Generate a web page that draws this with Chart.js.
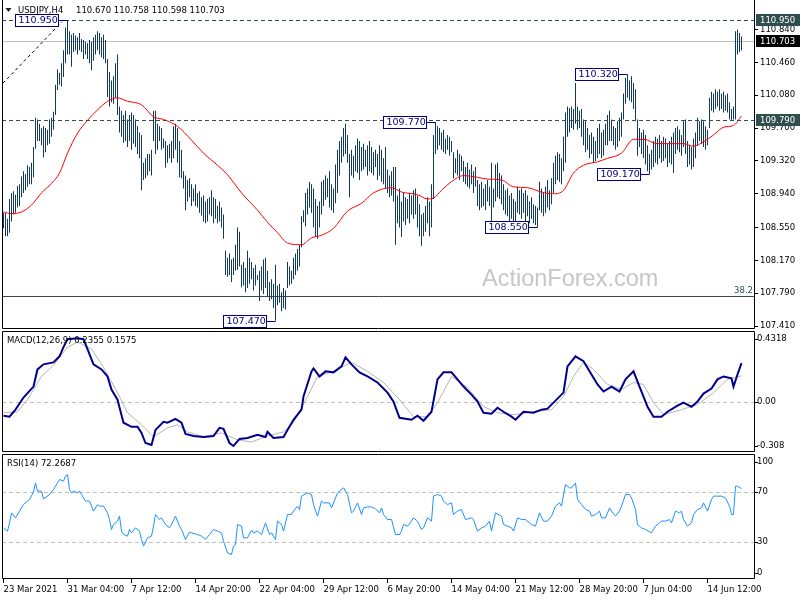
<!DOCTYPE html>
<html>
<head>
<meta charset="utf-8">
<title>USDJPY H4</title>
<script src="https://cdn.jsdelivr.net/npm/chart.js@4.4.1/dist/chart.umd.min.js"></script>
<style>
  body { margin: 0; background: #fff; }
  .panel { position: absolute; left: 0; }
</style>
</head>
<body>
<canvas id="priceChart" class="panel" style="top:0px" width="800" height="330"></canvas>
<canvas id="macdChart" class="panel" style="top:330px" width="800" height="123"></canvas>
<canvas id="rsiChart" class="panel" style="top:453px" width="800" height="147"></canvas>
<script>
// ---- data (one bar per index) ----
const xTickBars = [0, 32, 64, 96, 128, 160, 192, 224, 256, 288, 320, 352];
const xTickLabels = ["23 Mar 2021", "31 Mar 04:00", "7 Apr 12:00", "14 Apr 20:00", "22 Apr 04:00", "29 Apr 12:00",
  "6 May 20:00", "14 May 04:00", "21 May 12:00", "28 May 20:00", "7 Jun 04:00", "14 Jun 12:00"];
const priceTicks = [107.41, 107.79, 108.17, 108.55, 108.94, 109.32, 109.70, 110.08, 110.46, 110.84];

const highs = [
  108.72,108.72,108.65,108.88,108.95,108.97,108.93,109.03,109.05,109.14,
  109.20,109.17,109.27,109.25,109.30,109.48,109.82,109.80,109.75,109.70,
  109.72,109.70,109.68,109.80,109.82,109.89,110.20,110.38,110.34,110.45,
  110.60,110.86,110.95,110.82,110.78,110.80,110.77,110.75,110.80,110.73,
  110.72,110.70,110.68,110.72,110.70,110.75,110.78,110.82,110.80,110.75,
  110.78,110.72,110.50,110.35,110.25,110.30,110.45,110.55,109.95,109.90,
  109.85,109.90,109.80,109.85,109.88,109.85,109.80,109.72,109.65,109.62,
  109.30,109.35,109.40,109.40,109.45,109.90,109.90,109.75,109.72,109.70,
  109.58,109.55,109.50,109.52,109.55,109.72,109.75,109.70,109.55,109.45,
  109.20,109.15,109.10,109.12,109.05,109.00,109.05,108.95,108.97,108.90,
  108.92,108.85,108.88,108.90,108.98,108.90,108.88,108.80,108.85,108.78,
  108.70,108.28,108.20,108.25,108.18,108.20,108.35,108.55,108.50,108.12,
  108.15,108.08,108.28,108.20,108.15,108.08,108.12,108.00,108.05,108.10,
  108.18,108.20,108.05,107.92,107.95,107.90,108.12,107.88,107.90,107.80,
  107.85,107.82,108.15,108.10,108.05,108.20,108.25,108.30,108.35,108.68,
  108.75,108.95,109.00,109.08,109.05,109.00,108.88,108.80,108.85,109.08,
  109.10,109.15,109.12,109.20,109.05,109.00,109.28,109.45,109.55,109.60,
  109.70,109.75,109.62,109.40,109.45,109.38,109.50,109.58,109.55,109.48,
  109.52,109.45,109.50,109.55,109.48,109.42,109.45,109.40,109.50,109.45,
  109.35,109.48,109.22,109.15,109.20,109.25,109.25,108.92,109.00,108.85,
  108.95,108.90,108.88,108.95,108.92,108.98,109.00,108.92,108.82,108.70,
  108.72,108.80,108.90,108.85,109.05,109.62,109.77,109.72,109.70,109.65,
  109.68,109.58,109.62,109.60,109.55,109.42,109.35,109.45,109.40,109.38,
  109.32,109.25,109.30,109.22,109.28,109.20,109.25,109.10,109.05,109.08,
  109.00,109.05,109.10,109.02,109.30,109.00,109.28,109.30,109.18,109.15,
  109.05,108.98,109.00,108.92,108.95,108.88,108.85,109.02,108.98,109.00,
  108.95,108.98,108.92,108.85,108.90,108.82,108.80,108.78,109.08,109.00,
  108.95,109.02,109.10,108.98,109.12,109.30,109.38,109.42,109.40,109.35,
  109.60,109.88,109.95,109.93,109.95,109.92,110.22,109.95,109.90,109.92,
  109.80,109.78,109.70,109.62,109.65,109.60,109.55,109.70,109.75,109.65,
  109.68,109.75,109.85,109.90,109.80,109.72,109.70,109.78,109.82,109.88,
  110.10,110.28,110.32,110.25,110.30,110.22,110.15,109.80,109.70,109.65,
  109.68,109.62,109.50,109.40,109.45,109.55,109.60,109.58,109.62,109.55,
  109.60,109.58,109.52,109.55,109.60,109.65,109.70,109.72,109.68,109.62,
  109.78,109.80,109.55,109.50,109.48,109.58,109.65,109.82,109.78,109.80,
  109.78,109.72,109.68,110.05,110.12,110.10,110.15,110.12,110.15,110.10,
  110.12,110.08,110.10,110.00,109.92,109.95,110.82,110.84,110.80,110.758
];
const lows = [
  108.54,108.45,108.45,108.49,108.62,108.70,108.72,108.78,108.80,108.90,
  108.95,108.98,109.02,109.05,109.05,109.13,109.46,109.55,109.55,109.50,
  109.36,109.42,109.50,109.52,109.60,109.68,109.85,110.14,110.20,110.18,
  110.29,110.45,110.55,110.55,110.41,110.58,110.60,110.55,110.60,110.58,
  110.50,110.55,110.50,110.45,110.37,110.48,110.55,110.60,110.55,110.52,
  110.50,110.45,110.06,109.95,110.00,109.98,110.05,109.85,109.65,109.60,
  109.53,109.55,109.48,109.55,109.45,109.52,109.48,109.40,109.35,108.98,
  109.10,109.12,109.15,109.20,109.15,109.55,109.40,109.45,109.55,109.45,
  109.47,109.24,109.30,109.35,109.30,109.35,109.45,109.30,109.13,109.12,
  109.00,108.75,108.85,108.90,108.80,108.85,108.80,108.78,108.72,108.69,
  108.62,108.60,108.62,108.70,108.68,108.60,108.65,108.60,108.62,108.55,
  108.42,108.00,107.98,108.00,107.92,108.00,108.05,108.06,108.10,107.86,
  107.88,107.80,107.85,107.90,107.95,107.82,107.88,107.94,107.70,107.82,
  107.78,107.85,107.75,107.70,107.72,107.62,107.47,107.65,107.68,107.58,
  107.62,107.60,107.85,107.88,107.90,107.95,108.00,108.05,108.10,108.32,
  108.61,108.56,108.70,108.78,108.72,108.55,108.44,108.42,108.55,108.70,
  108.80,108.87,108.90,108.78,108.75,108.72,108.83,108.95,109.15,109.30,
  109.37,109.40,109.30,108.90,109.15,109.12,109.20,109.18,109.10,109.20,
  109.22,109.25,109.15,109.20,109.18,109.15,109.25,109.10,109.15,109.08,
  109.05,109.00,108.95,108.90,108.92,108.85,108.35,108.60,108.55,108.44,
  108.62,108.58,108.65,108.60,108.70,108.65,108.70,108.55,108.45,108.34,
  108.45,108.50,108.60,108.45,108.55,108.88,109.40,109.45,109.50,109.45,
  109.42,109.40,109.45,109.38,109.42,109.12,109.18,109.15,109.10,109.20,
  109.08,109.05,109.02,109.00,109.05,108.95,109.02,108.80,108.75,108.78,
  108.80,108.75,108.85,108.80,108.62,108.78,108.85,108.90,108.88,108.82,
  108.75,108.70,108.68,108.62,108.65,108.58,108.57,108.72,108.70,108.65,
  108.72,108.62,108.68,108.60,108.65,108.60,108.58,108.55,108.75,108.72,
  108.68,108.72,108.78,108.75,108.82,108.95,109.05,109.10,109.08,109.05,
  109.20,109.30,109.60,109.65,109.70,109.68,109.75,109.68,109.70,109.60,
  109.50,109.42,109.45,109.35,109.40,109.30,109.32,109.35,109.40,109.35,
  109.38,109.50,109.50,109.55,109.55,109.50,109.45,109.48,109.55,109.60,
  109.80,109.98,110.05,110.02,110.00,109.92,109.78,109.38,109.48,109.40,
  109.35,109.28,109.20,109.17,109.22,109.25,109.30,109.28,109.35,109.30,
  109.32,109.35,109.25,109.30,109.28,109.18,109.40,109.45,109.42,109.38,
  109.48,109.40,109.25,109.28,109.22,109.25,109.35,109.50,109.55,109.52,
  109.48,109.45,109.50,109.70,109.90,109.88,109.92,109.95,109.90,109.92,
  109.88,109.90,109.88,109.80,109.79,109.80,109.80,110.55,110.58,110.598
];

// red moving average
const maBars = [0,4,9,14,19,24,28,32,37,42,47,52,57,62,69,75,80,87,94,100,107,112,119,127,132,137,142,149,154,159,
  165,172,179,185,194,199,207,212,215,219,224,230,237,242,249,255,262,269,275,280,285,290,297,302,309,315,320,327,334,340,
  345,350,355,360,365,369];
const maValues = [108.73,108.71,108.73,108.81,108.95,109.06,109.18,109.41,109.64,109.79,109.91,110.01,110.05,110.01,109.97,
  109.83,109.80,109.72,109.56,109.41,109.27,109.16,108.95,108.75,108.61,108.49,108.37,108.35,108.43,108.46,108.54,108.74,
  108.83,108.95,109.01,108.96,108.93,108.88,108.89,108.98,109.08,109.15,109.13,109.11,109.10,109.02,109.01,108.96,108.94,
  108.98,109.18,109.27,109.31,109.35,109.41,109.57,109.57,109.52,109.52,109.52,109.49,109.54,109.62,109.71,109.73,109.84];

// dashed trend line, horizontal levels, marked swing points
const trendBars = [-0.25, 29.25];
const trendPrices = [110.22, 110.93];
const resistanceLevel = 110.95;
const supportLevel = 109.79;
const bidLevel = 110.703;
const fibLevel = 107.756;
const fibLabel = "38.2";
const markerBars = [32, 136, 216, 267, 312, 323];
const markerKinds = ["high", "low", "high", "low", "high", "low"];

// MACD(12,26,9)
const macdBars = [0,3,6,10,15,17,20,25,28,30,32,37,40,42,45,49,52,54,57,60,64,67,69,71,74,76,80,82,86,89,91,95,100,105,
  108,110,113,115,118,122,127,131,132,135,140,142,145,149,150,154,155,158,161,165,169,171,174,178,182,187,192,195,198,204,
  207,210,214,217,220,224,227,230,234,237,240,244,247,250,254,256,260,265,269,272,275,280,282,286,290,294,297,300,304,308,
  311,315,318,322,325,329,332,337,340,344,347,350,354,357,360,364,365,367,369];
const macdValues = [-0.086,-0.092,-0.049,0.025,0.092,0.197,0.228,0.240,0.277,0.333,0.382,0.388,0.382,0.321,0.228,0.197,
  0.154,0.074,0.012,-0.129,-0.154,-0.154,-0.191,-0.253,-0.265,-0.173,-0.123,-0.129,-0.105,-0.129,-0.197,-0.210,-0.216,
  -0.210,-0.160,-0.166,-0.253,-0.271,-0.228,-0.222,-0.203,-0.216,-0.185,-0.222,-0.216,-0.173,-0.111,-0.049,0.031,0.185,
  0.203,0.154,0.185,0.179,0.216,0.271,0.228,0.179,0.154,0.117,0.055,0,-0.099,-0.111,-0.086,-0.117,-0.062,0.136,0.179,
  0.179,0.136,0.092,0.043,0,-0.068,-0.074,-0.037,-0.062,-0.092,-0.111,-0.062,-0.068,-0.049,-0.043,-0.006,0.055,0.216,
  0.277,0.247,0.166,0.105,0.062,0.092,0.062,0.136,0.185,0.092,-0.031,-0.092,-0.092,-0.062,-0.025,-0.006,-0.031,0,0.049,
  0.080,0.136,0.154,0.142,0.092,0.166,0.2355];
const signalBars = [0,7,12,19,25,32,37,44,50,57,62,69,75,82,87,92,100,109,117,124,132,140,145,152,157,165,174,182,190,198,
  205,212,217,224,232,240,247,255,265,274,280,285,290,295,302,309,315,320,325,330,339,347,355,362,369];
const signalValues = [-0.068,-0.062,0.012,0.154,0.222,0.333,0.364,0.321,0.210,0.055,-0.068,-0.142,-0.216,-0.160,-0.142,
  -0.185,-0.216,-0.191,-0.234,-0.247,-0.210,-0.185,-0.129,0.031,0.154,0.185,0.240,0.185,0.117,0.012,-0.092,-0.092,-0.006,
  0.154,0.086,-0.031,-0.068,-0.080,-0.062,-0.049,0.031,0.154,0.240,0.197,0.105,0.074,0.117,0.105,-0.006,-0.080,-0.049,
  -0.018,0.055,0.136,0.1575];
const macdMin = -0.308;
const macdMax = 0.4318;
const macdTicks = [0.4318, 0, -0.308];
const macdTickLabels = ["0.4318", "0.00", "-0.308"];

// RSI(14)
const rsiBars = [0,2,3,4,6,8,10,13,15,16,17,19,20,23,25,27,28,30,31,32,33,34,35,37,38,39,41,43,45,47,48,50,52,53,54,55,57,
  58,59,60,62,63,64,66,68,69,70,72,74,75,76,78,79,81,83,84,86,88,89,91,93,94,97,99,101,103,105,107,109,110,112,114,115,116,
  117,119,120,122,124,125,127,129,131,133,134,136,137,139,140,142,144,145,147,148,149,152,154,155,157,159,160,163,164,167,
  170,172,174,175,177,179,180,182,184,186,188,189,190,192,194,196,198,199,200,202,204,205,207,209,210,212,214,215,217,219,
  220,222,224,225,227,229,231,234,235,237,239,241,243,244,246,249,250,252,254,255,257,259,261,264,266,268,270,272,274,276,
  278,279,281,283,284,286,287,289,291,293,294,296,298,299,301,303,304,306,308,309,311,313,314,316,317,319,321,324,326,328,
  329,331,333,334,336,338,339,340,342,344,345,347,349,350,352,354,355,359,361,363,364,365,366,367,369];
const rsiValues = [40.9,38.3,44.9,52.9,48.9,54.3,59.6,63.6,69.5,76.9,70.3,70.3,64.1,67.6,71.6,76.9,79.6,78.3,82.3,83.6,71.6,
  68.9,70.3,68.9,70.3,67.6,62.3,62.3,54.3,59.6,58.3,58.3,52.9,47.6,39.6,43.6,46.3,50.3,38.3,35.6,34.3,39.6,36.9,40.9,38.3,
  31.6,26.3,32.9,34.3,42.3,51.6,47.6,48.9,43.6,40.9,43.6,50.3,42.3,39.6,31.6,37.5,36.9,35.6,34.3,31.6,35.6,39.6,38.3,36.9,
  30.3,20.9,19.6,26.3,27.6,43.6,42.3,32.9,32.9,39.1,36.9,38.3,35.6,44.9,35.6,36.9,31.6,46.3,43.6,38.3,51.6,51.6,54.3,58.3,
  55.6,66.3,68.9,67.6,59.6,50.3,62.3,60.9,60.9,56.9,68.9,72.9,67.6,52.9,54.3,60.9,51.6,56.9,57.7,57.7,56.1,52.9,56.9,51.6,
  47.6,47.6,35.6,35.6,38.3,43.6,42.3,46.3,48.9,46.3,39.6,40.9,48.9,46.3,66.3,67.6,66.3,62.3,59.6,60.9,51.6,54.3,55.6,47.6,
  48.9,47.6,38.3,40.9,42.3,46.3,38.3,52.9,50.3,43.6,42.3,40.9,38.3,48.9,47.6,47.6,43.6,42.3,52.9,46.3,46.3,50.3,58.3,60.9,
  58.3,75.6,72.9,72.9,76.9,63.6,59.6,55.6,54.3,50.3,51.6,54.3,48.9,48.9,56.9,54.3,50.3,54.3,58.3,67.6,67.6,64.9,55.6,43.6,
  40.9,39.6,36.9,42.3,44.9,46.3,46.3,47.6,44.9,54.3,52.9,54.3,47.6,42.3,44.9,51.6,55.6,56.9,60.9,54.3,63.6,66.3,66.3,64.9,
  58.3,51.6,51.6,74.3,74.3,72.27];
const rsiTicks = [100, 70, 30, 0];
const rsiTickLabels = ["100", "70", "30", "0"];
const rsiUpper = 70;
const rsiLower = 30;

// header texts
const symbolTitle = "USDJPY,H4";
const quoteText = "110.670 110.758 110.598 110.703";
const macdTitle = "MACD(12,26,9) 0.2355 0.1575";
const rsiTitle = "RSI(14) 72.2687";
const watermarkText = "ActionForex.com";

// ---- styling ----
const BAR_COLOR = "#123a5a";
const NAVY = "#000080";
const SLATE = "#2f4f4f";
const FAMILY = "'DejaVu Sans'";
const xMin = -0.75;
const xMax = 375.75;
const priceMax = 111.17;
const priceMin = 107.3757;

Chart.defaults.font.family = FAMILY;
Chart.defaults.font.size = 8.5;
Chart.defaults.color = "#000";

const points = (bars, vals) => bars.map((b, k) => ({ x: b, y: vals[k] }));

function drawFrame(chart, skipTop) {
  const { ctx, chartArea: a } = chart;
  const l = a.left + 0.5, r = a.right - 0.5, t = a.top + 0.5, b = a.bottom - 0.5;
  ctx.save();
  ctx.strokeStyle = "#000";
  ctx.lineWidth = 1;
  ctx.setLineDash([]);
  ctx.beginPath();
  if (skipTop) {
    ctx.moveTo(l, 0);
    ctx.lineTo(l, b);
    ctx.lineTo(r, b);
    ctx.lineTo(r, 0);
  } else {
    ctx.rect(l, t, r - l, b - t);
  }
  ctx.stroke();
  ctx.restore();
}

function hLine(chart, value, color, dash) {
  const { ctx, chartArea: a, scales } = chart;
  const py = Math.round(scales.y.getPixelForValue(value)) + 0.5;
  ctx.save();
  ctx.strokeStyle = color;
  ctx.lineWidth = 1;
  ctx.setLineDash(dash);
  ctx.beginPath();
  ctx.moveTo(a.left, py);
  ctx.lineTo(a.right, py);
  ctx.stroke();
  ctx.restore();
  return py;
}

function text(ctx, str, x, y, color, size, align, baseline) {
  ctx.save();
  ctx.font = size + "px " + FAMILY;
  ctx.fillStyle = color;
  ctx.textAlign = align || "left";
  ctx.textBaseline = baseline || "middle";
  ctx.fillText(str, x, y);
  ctx.restore();
}

function sideLabels(chart, ticks, labels) {
  const { ctx, chartArea: a, scales } = chart;
  ctx.save();
  ctx.strokeStyle = "#000";
  ticks.forEach((v, k) => {
    let py = Math.round(scales.y.getPixelForValue(v));
    py = Math.min(Math.max(py, a.top + 8), a.bottom - 6);
    ctx.beginPath();
    ctx.moveTo(a.right, py + 0.5);
    ctx.lineTo(a.right + 3, py + 0.5);
    ctx.stroke();
    text(ctx, labels[k], a.right + 2, py, "#000", 8.5);
  });
  ctx.restore();
}

const priceDecor = {
  id: "priceDecor",
  beforeDatasetsDraw(chart) {
    const { ctx, chartArea: a } = chart;
    ctx.save();
    ctx.font = "23.5px 'Liberation Sans'";
    ctx.fillStyle = "#c6c6c6";
    ctx.textBaseline = "alphabetic";
    ctx.fillText(watermarkText, 482, 286);
    ctx.restore();
    hLine(chart, bidLevel, "#c0c0c0", []);
    const fy = hLine(chart, fibLevel, SLATE, []);
    text(ctx, fibLabel, a.right - 2, fy - 1.5, SLATE, 8.5, "right", "bottom");
  },
  afterDatasetsDraw(chart) {
    const { ctx, scales: { x, y } } = chart;
    hLine(chart, resistanceLevel, SLATE, [4, 3]);
    hLine(chart, supportLevel, SLATE, [4, 3]);
    ctx.save();
    ctx.lineWidth = 1;
    ctx.strokeStyle = NAVY;
    markerBars.forEach((b, k) => {
      const price = markerKinds[k] === "high" ? highs[b] : lows[b];
      const px = x.getPixelForValue(b);
      const py = Math.round(y.getPixelForValue(price)) + 0.5;
      const boxRight = Math.round(px - 10) + 0.5;
      const boxLeft = boxRight - 43;
      ctx.beginPath();
      ctx.moveTo(boxRight, py);
      ctx.lineTo(px, py);
      ctx.stroke();
      ctx.fillStyle = "#fff";
      ctx.fillRect(boxLeft, py - 6, 43, 12);
      ctx.strokeRect(boxLeft, py - 6, 43, 12);
      text(ctx, price.toFixed(3), boxLeft + 3, py + 0.5, NAVY, 9.5);
    });
    ctx.restore();
    // header
    ctx.save();
    ctx.fillStyle = "#222";
    ctx.beginPath();
    ctx.moveTo(5.5, 8);
    ctx.lineTo(11.5, 8);
    ctx.lineTo(8.5, 12);
    ctx.closePath();
    ctx.fill();
    ctx.restore();
    text(ctx, symbolTitle, 18, 10.5, "#000", 8.5);
    text(ctx, quoteText, 76, 10.5, "#000", 8.5);
  },
  afterDraw(chart) {
    drawFrame(chart, true);
    const { ctx, chartArea: a, scales: { y } } = chart;
    [[resistanceLevel, SLATE], [bidLevel, "#000"], [supportLevel, SLATE]].forEach(([v, bg]) => {
      const py = Math.round(y.getPixelForValue(v));
      ctx.fillStyle = bg;
      ctx.fillRect(a.right + 1, py - 6, 45, 12);
      text(ctx, v.toFixed(3), a.right + 5, py + 0.5, "#fff", 8.5);
    });
  }
};

const macdDecor = {
  id: "macdDecor",
  beforeDatasetsDraw(chart) {
    hLine(chart, 0, "#c0c0c0", [4, 3]);
  },
  afterDraw(chart) {
    drawFrame(chart, false);
    sideLabels(chart, macdTicks, macdTickLabels);
    text(chart.ctx, macdTitle, 7, 10.5, "#000", 8.5);
  }
};

const rsiDecor = {
  id: "rsiDecor",
  beforeDatasetsDraw(chart) {
    hLine(chart, rsiUpper, "#c0c0c0", [4, 3]);
    hLine(chart, rsiLower, "#c0c0c0", [4, 3]);
  },
  afterDraw(chart) {
    drawFrame(chart, false);
    sideLabels(chart, rsiTicks, rsiTickLabels);
    text(chart.ctx, rsiTitle, 7, 11, "#000", 8.5);
  }
};

const hiddenX = { type: "linear", min: xMin, max: xMax, offset: false, display: false };
const baseOptions = {
  responsive: false,
  animation: false,
  events: [],
  plugins: { legend: { display: false }, tooltip: { enabled: false } }
};

// ---- price panel ----
new Chart(document.getElementById("priceChart"), {
  type: "line",
  data: {
    datasets: [
      {
        type: "line", data: points(trendBars, trendPrices), borderColor: "#000", borderWidth: 1,
        borderDash: [3, 3], pointRadius: 0, order: 0
      },
      {
        type: "line", data: points(maBars, maValues), borderColor: "#ff0000", borderWidth: 1,
        pointRadius: 0, cubicInterpolationMode: "monotone", order: 1
      },
      {
        type: "bar", data: highs.map((h, i) => ({ x: i, y: [lows[i], h] })), backgroundColor: BAR_COLOR,
        barThickness: 1, borderWidth: 0, inflateAmount: 0, order: 2
      }
    ]
  },
  options: {
    ...baseOptions,
    layout: { padding: { left: 2, right: 0, top: 1, bottom: 1 } },
    scales: {
      x: hiddenX,
      y: {
        position: "right",
        min: priceMin,
        max: priceMax,
        afterBuildTicks: (s) => { s.ticks = priceTicks.map((v) => ({ value: v })); },
        afterFit: (s) => { s.width = 45; s.paddingTop = 0; s.paddingBottom = 0; },
        ticks: { color: "#000", padding: 2, callback: (v) => Number(v).toFixed(3) },
        grid: { drawOnChartArea: false, tickLength: 3, color: "#000" },
        border: { display: false }
      }
    }
  },
  plugins: [priceDecor]
});

// ---- MACD panel ----
new Chart(document.getElementById("macdChart"), {
  type: "line",
  data: {
    datasets: [
      { data: points(macdBars, macdValues), borderColor: "#00008b", borderWidth: 2, pointRadius: 0, order: 0 },
      { data: points(signalBars, signalValues), borderColor: "#b4b4b4", borderWidth: 1, pointRadius: 0, order: 1 }
    ]
  },
  options: {
    ...baseOptions,
    layout: { padding: { left: 2, right: 45, top: 1, bottom: 1 } },
    scales: {
      x: hiddenX,
      y: { min: macdMin, max: macdMax, display: false }
    }
  },
  plugins: [macdDecor]
});

// ---- RSI panel ----
new Chart(document.getElementById("rsiChart"), {
  type: "line",
  data: {
    datasets: [
      { data: points(rsiBars, rsiValues), borderColor: "#1e90ff", borderWidth: 1, pointRadius: 0 }
    ]
  },
  options: {
    ...baseOptions,
    layout: { padding: { left: 2, right: 45, top: 1, bottom: 0 } },
    scales: {
      x: {
        type: "linear",
        min: xMin,
        max: xMax,
        offset: false,
        afterBuildTicks: (s) => { s.ticks = xTickBars.map((v) => ({ value: v })); },
        afterFit: (s) => { s.height = 21; s.paddingLeft = 0; s.paddingRight = 0; },
        ticks: {
          autoSkip: false, maxRotation: 0, minRotation: 0, align: "start", padding: 2, color: "#000",
          callback: (v, i) => xTickLabels[i]
        },
        grid: { drawOnChartArea: false, tickLength: 4, color: "#000", offset: false },
        border: { display: false }
      },
      y: { min: 0, max: 100, display: false }
    }
  },
  plugins: [rsiDecor]
});
</script>
</body>
</html>
